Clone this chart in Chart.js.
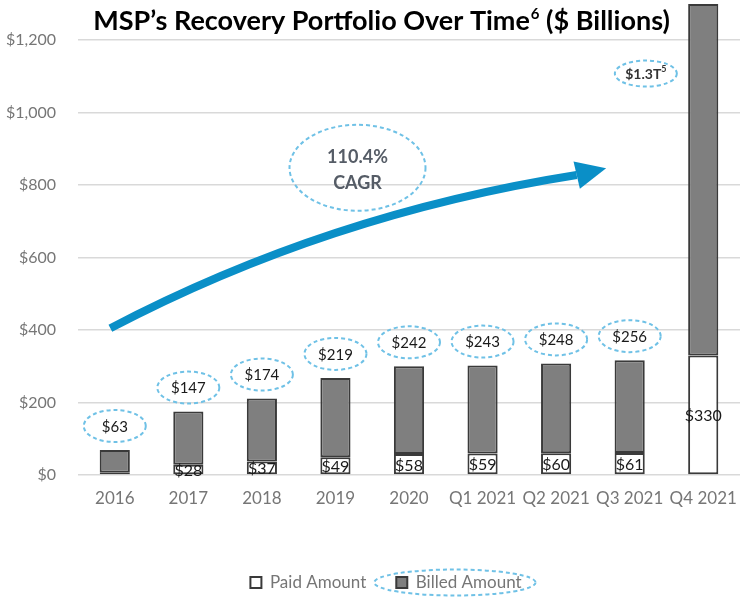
<!DOCTYPE html>
<html>
<head>
<meta charset="utf-8">
<script src="https://cdn.jsdelivr.net/npm/chart.js@4.4.0/dist/chart.umd.min.js"></script>
<style>
  html, body { margin: 0; padding: 0; background: #ffffff; }
  #wrap { position: relative; width: 740px; height: 603px; }
</style>
</head>
<body>
<div id="wrap"><canvas id="c" width="740" height="603"></canvas></div>
<script>
// ---- data ----
const categories = ['2016', '2017', '2018', '2019', '2020', 'Q1 2021', 'Q2 2021', 'Q3 2021', 'Q4 2021'];
const paidAmount = [6, 28, 37, 49, 58, 59, 60, 61, 330];
const billedAmount = [63, 147, 174, 219, 242, 243, 248, 256, 970];
const billedLabels = ['$63', '$147', '$174', '$219', '$242', '$243', '$248', '$256', '$1.3T'];
const yTicks = [0, 200, 400, 600, 800, 1000, 1200];
const titleText = 'MSP\u2019s Recovery Portfolio Over Time';
const cagrText = ['110.4%', 'CAGR'];

const FONT = 'Lato, "Open Sans", sans-serif';
const BLUE_DASH = '#6fc1e6';
const AXIS_GREY = '#767676';

function dashedEllipse(ctx, cx, cy, rx, ry) {
  ctx.save();
  ctx.beginPath();
  ctx.ellipse(cx, cy, rx, ry, 0, 0, Math.PI * 2);
  ctx.setLineDash([4, 3]);
  ctx.lineWidth = 2;
  ctx.strokeStyle = BLUE_DASH;
  ctx.stroke();
  ctx.restore();
}

const overlay = {
  id: 'overlay',
  afterLayout(chart) {
    const lg = chart.legend;
    if (lg) { lg.left += 16; lg.right += 16; }
  },
  afterDraw(chart) {
    const ctx = chart.ctx;
    const xs = chart.scales.x, ys = chart.scales.y;
    const px = i => xs.getPixelForValue(i);
    const py = v => ys.getPixelForValue(v);

    // Paid labels (centred in the paid segment)
    ctx.save();
    ctx.font = '16px ' + FONT;
    ctx.fillStyle = '#1a1a1a';
    ctx.textAlign = 'center';
    ctx.textBaseline = 'middle';
    paidAmount.forEach((v, i) => {
      if (v < 10) return;
      ctx.fillText('$' + v, px(i), py(v / 2) + 1);
    });
    ctx.restore();

    // Billed labels in dashed ellipses above each bar
    ctx.save();
    ctx.font = '15px ' + FONT;
    ctx.fillStyle = '#1a1a1a';
    ctx.textAlign = 'center';
    ctx.textBaseline = 'middle';
    billedAmount.forEach((v, i) => {
      if (i === categories.length - 1) return;
      const cx = px(i);
      const cy = py(v + paidAmount[i]) - 24;
      dashedEllipse(ctx, cx, cy, 31, 16);
      ctx.fillText(billedLabels[i], cx, cy + 1);
    });
    // Q4 label ($1.3T with footnote 5)
    const last = categories.length - 1;
    const qx = px(last - 0.78), qy = py(1108);
    dashedEllipse(ctx, qx, qy, 31, 13);
    ctx.font = 'bold 14px ' + FONT;
    ctx.fillStyle = '#333333';
    const w1 = ctx.measureText(billedLabels[last]).width;
    ctx.font = 'bold 9px ' + FONT;
    const w2 = ctx.measureText('5').width;
    const sx = qx - (w1 + w2) / 2;
    ctx.textAlign = 'left';
    ctx.font = 'bold 14px ' + FONT;
    ctx.fillText(billedLabels[last], sx, qy + 1);
    ctx.font = 'bold 9px ' + FONT;
    ctx.fillText('5', sx + w1, qy - 4);
    ctx.restore();

    // CAGR arrow (quadratic curve in data space)
    const x0 = px(-0.06), y0 = py(405);
    const xc = px(2.9), yc = py(720);
    const x1 = px(6.28), y1 = py(828);
    const xt = px(6.68), yt = py(847);
    ctx.save();
    ctx.strokeStyle = '#0a8fc7';
    ctx.fillStyle = '#0a8fc7';
    ctx.lineWidth = 8;
    ctx.lineCap = 'butt';
    ctx.beginPath();
    ctx.moveTo(x0, y0);
    ctx.quadraticCurveTo(xc, yc, x1, y1);
    ctx.stroke();
    const ang = Math.atan2(yt - y1, xt - x1);
    const hw = 14;
    ctx.beginPath();
    ctx.moveTo(xt, yt);
    ctx.lineTo(x1 + Math.cos(ang + Math.PI / 2) * hw, y1 + Math.sin(ang + Math.PI / 2) * hw);
    ctx.lineTo(x1 + Math.cos(ang - Math.PI / 2) * hw, y1 + Math.sin(ang - Math.PI / 2) * hw);
    ctx.closePath();
    ctx.fill();
    ctx.restore();

    // CAGR bubble
    const ccx = px(3.3), ccy = py(848);
    ctx.save();
    dashedEllipse(ctx, ccx, ccy, 68, 43);
    ctx.font = 'bold 18px ' + FONT;
    ctx.fillStyle = '#555c66';
    ctx.textAlign = 'center';
    ctx.textBaseline = 'middle';
    ctx.fillText(cagrText[0], ccx, ccy - 11);
    ctx.fillText(cagrText[1], ccx, ccy + 15);
    ctx.restore();

    // Title
    ctx.save();
    ctx.fillStyle = '#000000';
    ctx.textBaseline = 'middle';
    ctx.font = 'bold 27px ' + FONT;
    const t1 = titleText, t3 = ' ($ Billions)';
    const a = ctx.measureText(t1).width, c = ctx.measureText(t3).width;
    ctx.font = 'bold 15px ' + FONT;
    const b = ctx.measureText('6').width;
    const tx = 381 - (a + b + c) / 2;
    ctx.textAlign = 'left';
    ctx.font = 'bold 27px ' + FONT;
    ctx.fillText(t1, tx, 21);
    ctx.font = 'bold 15px ' + FONT;
    ctx.fillText('6', tx + a + 1, 14);
    ctx.font = 'bold 27px ' + FONT;
    ctx.fillText(t3, tx + a + b + 1, 21);
    ctx.restore();

    // Dashed ellipse around "Billed Amount" legend item
    const lg = chart.legend;
    if (lg && lg.legendHitBoxes && lg.legendHitBoxes[1]) {
      const hb = lg.legendHitBoxes[1];
      dashedEllipse(ctx, hb.left + hb.width / 2 - 4, hb.top + hb.height / 2, hb.width / 2 + 18, 13);
    }
  }
};

new Chart(document.getElementById('c'), {
  type: 'bar',
  data: {
    labels: categories,
    datasets: [
      {
        label: 'Paid Amount',
        data: paidAmount,
        backgroundColor: '#ffffff',
        borderColor: '#3a3a3a',
        borderWidth: 2,
        borderSkipped: false,
        barPercentage: 0.41,
        categoryPercentage: 1.0
      },
      {
        label: 'Billed Amount',
        data: billedAmount,
        backgroundColor: '#7f7f7f',
        borderColor: '#3a3a3a',
        borderWidth: 2,
        borderSkipped: false,
        barPercentage: 0.41,
        categoryPercentage: 1.0
      }
    ]
  },
  options: {
    responsive: false,
    animation: false,
    layout: { autoPadding: false, padding: { top: 4, right: 0, left: 0, bottom: 2 } },
    plugins: {
      legend: {
        position: 'bottom',
        labels: {
          color: AXIS_GREY,
          font: { family: FONT, size: 17 },
          boxWidth: 11,
          boxHeight: 11,
          padding: 30
        }
      },
      tooltip: { enabled: false }
    },
    scales: {
      x: {
        stacked: true,
        grid: { display: false, drawTicks: false },
        border: { display: false },
        ticks: { color: AXIS_GREY, font: { family: FONT, size: 17 }, padding: 13 },
        afterFit(s) { s.height = 69; s.paddingLeft = 0; s.paddingRight = 0; }
      },
      y: {
        stacked: true,
        min: 0,
        max: 1300,
        afterBuildTicks(s) { s.ticks = yTicks.map(v => ({ value: v })); },
        grid: { color: '#d9d9d9', lineWidth: 1.5, drawTicks: false },
        border: { display: false },
        ticks: {
          color: AXIS_GREY,
          font: { family: FONT, size: 16 },
          padding: 22,
          callback: v => '$' + v.toLocaleString('en-US')
        },
        afterFit(s) { s.width = 78; s.paddingTop = 0; s.paddingBottom = 0; }
      }
    }
  },
  plugins: [overlay]
});
</script>
</body>
</html>
